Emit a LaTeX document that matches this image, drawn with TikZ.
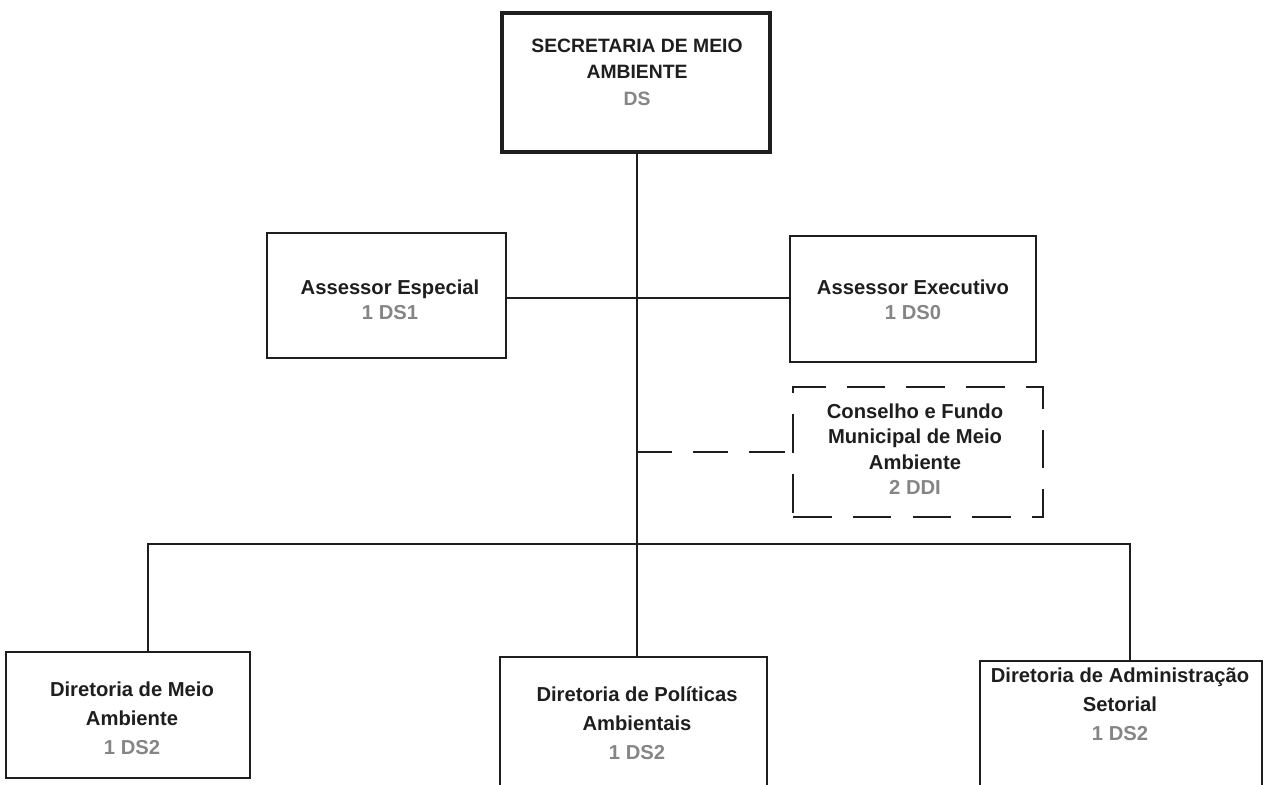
\documentclass[tikz,border=0pt]{standalone}
\usepackage{fontspec}
\setmainfont{Liberation Sans}
\definecolor{ink}{HTML}{1E1E1E}
\definecolor{code}{HTML}{858585}
\begin{document}
\begin{tikzpicture}[x=0.02cm,y=-0.02cm,
  every node/.style={font=\bfseries\fontsize{11.5}{14.5}\selectfont, text=ink, align=center},
  boxA/.style={draw=ink, line width=1.3pt, rectangle, inner sep=0pt},
  boxtop/.style={draw=ink, line width=2.2pt, rectangle, inner sep=0pt},
  dbox/.style={draw=ink, line width=1.3pt, dash pattern=on 22pt off 12pt, rectangle, inner sep=0pt},
  conn/.style={draw=ink, line width=1.1pt},
  dconn/.style={draw=ink, line width=1.1pt, dash pattern=on 20pt off 12pt},
  lbl/.style={inner sep=0pt},
  lbltop/.style={inner sep=0pt, font=\bfseries\fontsize{11}{15}\selectfont},
  lblb/.style={inner sep=0pt, font=\bfseries\fontsize{11.5}{16.5}\selectfont}]
\useasboundingbox (0,0) rectangle (1266,784);
% boxes
\node[boxtop, minimum width=5.36cm, minimum height=2.78cm] (sec) at (636,82.5) {};
\node[lbltop] (sect) at (637,72) {SECRETARIA DE MEIO\\AMBIENTE\\\textcolor{code}{DS}};
\node[boxA, minimum width=4.78cm, minimum height=2.5cm] (ae) at (386.5,295.5) {};
\node[lbl] (aet) at (390,300) {Assessor Especial\\\textcolor{code}{1 DS1}};
\node[boxA, minimum width=4.92cm, minimum height=2.52cm] (ax) at (913,299) {};
\node[lbl] (axt) at (913,300) {Assessor Executivo\\\textcolor{code}{1 DS0}};
\node[dbox, minimum width=5.0cm, minimum height=2.6cm] (cf) at (918,452) {};
\node[lbl] (cft) at (915,449) {Conselho e Fundo\\Municipal de Meio\\Ambiente\\\textcolor{code}{2 DDI}};
\node[boxA, minimum width=4.88cm, minimum height=2.52cm] (d1) at (128,715) {};
\node[lblb] (d1t) at (132,718) {Diretoria de Meio\\Ambiente\\\textcolor{code}{1 DS2}};
\node[boxA, minimum width=5.34cm, minimum height=2.7cm] (d2) at (633.5,724.5) {};
\node[lblb] (d2t) at (637,723) {Diretoria de Políticas\\Ambientais\\\textcolor{code}{1 DS2}};
\node[boxA, minimum width=5.64cm, minimum height=2.8cm] (d3) at (1121,731) {};
\node[lblb] (d3t) at (1120,704) {Diretoria de Administração\\Setorial\\\textcolor{code}{1 DS2}};
% connectors
\coordinate (j1) at (637,298);
\coordinate (j2) at (637,452);
\coordinate (bus) at (637,544);
\coordinate (c1) at (148,544);
\coordinate (c3) at (1130,544);
\draw[conn] (sec.south -| j1) -- (d2.north -| j1);
\draw[conn] (ae.east |- j1) -- (ax.west |- j1);
\draw[dconn] (j2) -- (cf.west |- j2);
\draw[conn] (d1.north -| c1) -- (c1) -- (c3) -- (d3.north -| c3);
\end{tikzpicture}
\end{document}
